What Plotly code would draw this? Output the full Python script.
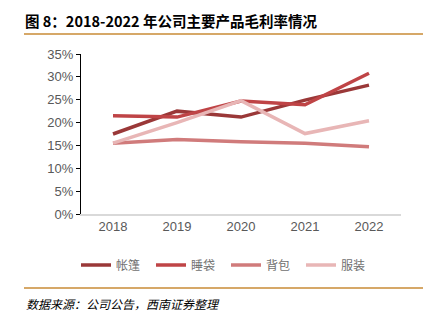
import plotly.graph_objects as go

years = ["2018", "2019", "2020", "2021", "2022"]
tent = [17.5, 22.5, 21.2, 24.9, 28.2]
sleeping_bag = [21.5, 21.2, 24.7, 23.9, 30.8]
backpack = [15.5, 16.3, 15.8, 15.5, 14.7]
apparel = [15.5, 20.0, 24.8, 17.6, 20.4]

names = ["帐篷", "睡袋", "背包", "服装"]
series = [tent, sleeping_bag, backpack, apparel]
colors = ["#9A3838", "#BF4446", "#D07B7B", "#E8B6B6"]

yticks = [0, 5, 10, 15, 20, 25, 30, 35]
ytext = [f"{v}%" for v in yticks]

fig = go.Figure()
for n, s, c in zip(names, series, colors):
    fig.add_trace(go.Scatter(x=years, y=s, name=n, mode="lines",
                             line=dict(color=c, width=3.5)))

W, H = 437, 324
L, R, T, B = 81, 36, 54, 110
pw, ph = W - L - R, H - T - B

def px(x):
    return (x - L) / pw

def py(y):
    return (H - B - y) / ph

font = "Noto Sans CJK SC, Liberation Sans, Arial, sans-serif"
numfont = "Liberation Sans, Arial, sans-serif"
fig.update_layout(
    width=W, height=H,
    margin=dict(l=L, r=R, t=T, b=B),
    paper_bgcolor="white", plot_bgcolor="white",
    font=dict(family=font, size=12, color="#595959"),
    xaxis=dict(type="category", range=[-0.5, 4.5], showline=True,
               linecolor="#D9D9D9", linewidth=1.5, ticks="", showgrid=False,
               tickfont=dict(size=13, color="#595959", family=numfont),
               fixedrange=True),
    yaxis=dict(range=[0, 35], tickvals=yticks, ticktext=ytext, showline=True,
               linecolor="#000000", linewidth=1, ticks="outside", ticklen=4,
               tickcolor="#000000", showgrid=False, zeroline=False,
               tickfont=dict(size=13, color="#595959", family=numfont), fixedrange=True),
    legend=dict(orientation="h", x=px(76), xanchor="left", y=py(265), yanchor="middle",
                font=dict(size=12, color="#707070"), itemwidth=30,
                entrywidth=30, entrywidthmode="pixels",
                tracegroupgap=0, bgcolor="rgba(0,0,0,0)"),
    showlegend=True,
)

fig.add_annotation(text="<b>图 8：2018-2022 年公司主要产品毛利率情况</b>",
                   xref="paper", yref="paper", x=px(23), y=py(20),
                   xanchor="left", yanchor="middle", showarrow=False,
                   font=dict(size=14.5, color="#000000", family=font))
fig.add_annotation(text="<i>数据来源：公司公告，西南证券整理</i>",
                   xref="paper", yref="paper", x=px(24), y=py(303),
                   xanchor="left", yanchor="middle", showarrow=False,
                   font=dict(size=12, color="#000000", family=font))
for yy in (34, 288):
    fig.add_shape(type="line", xref="paper", yref="paper",
                  x0=px(24), x1=px(423), y0=py(yy), y1=py(yy),
                  line=dict(color="#D6A868", width=2))

fig.write_html("out.html")
